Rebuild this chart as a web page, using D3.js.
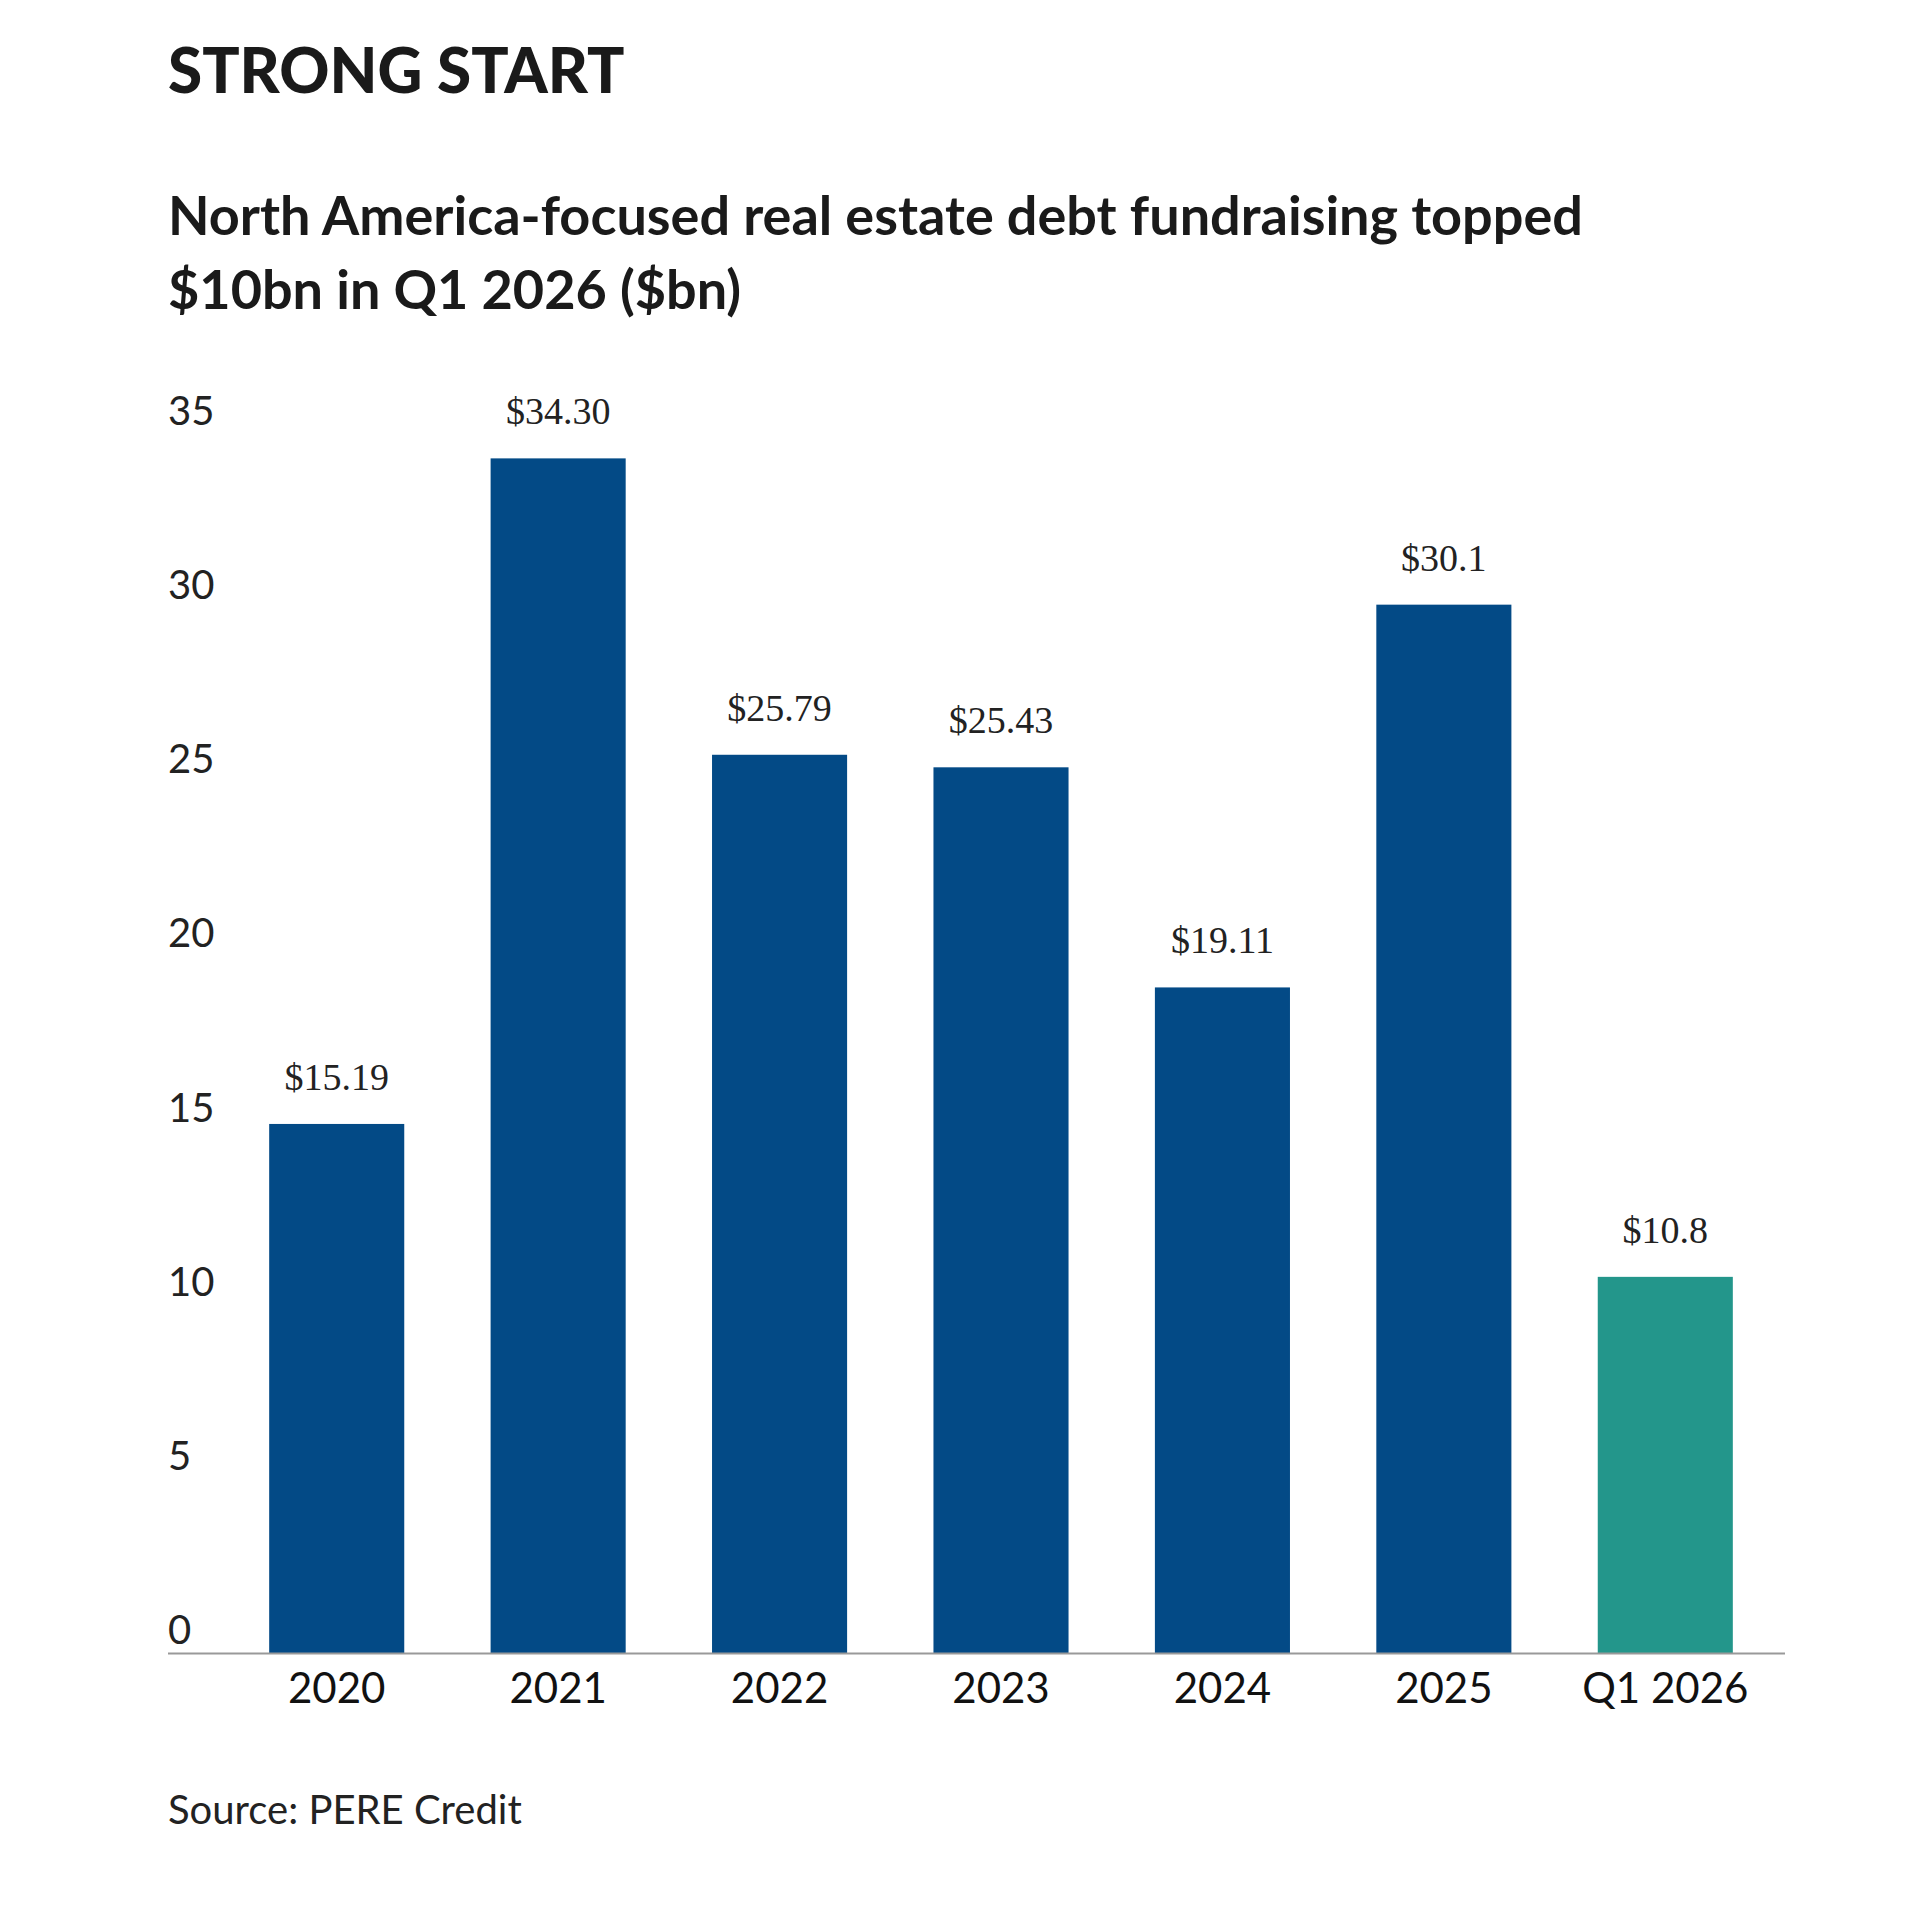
<!DOCTYPE html>
<html><head><meta charset="utf-8">
<script src="https://cdn.jsdelivr.net/npm/d3@7"></script>
<style>body{margin:0;background:#fff}</style>
</head><body><div id="chart"></div>
<script>
const categories = ["2020","2021","2022","2023","2024","2025","Q1 2026"]
const values = [15.19, 34.30, 25.79, 25.43, 19.11, 30.1, 10.8]
const valueLabels = ["$15.19","$34.30","$25.79","$25.43","$19.11","$30.1","$10.8"]
const yTicks = [0,5,10,15,20,25,30,35]

const svg = d3.select("#chart").append("svg")
  .attr("width", 1920).attr("height", 1920)

svg.append("text").attr("x", 168).attr("y", 93)
  .attr("font-family", "Lato").attr("font-weight", 900).attr("font-size", 62)
  .attr("fill", "#1a1a1a").text("STRONG START")

const sub = ["North America-focused real estate debt fundraising topped", "$10bn in Q1 2026 ($bn)"]
svg.selectAll(".sub").data(sub).enter().append("text")
  .attr("x", 168).attr("y", (d, i) => 235 + i * 74)
  .attr("font-family", "Lato").attr("font-weight", 700).attr("font-size", 54)
  .attr("fill", "#1a1a1a").text(d => d)

const x = d3.scaleBand().domain(categories).range([226, 1776]).paddingInner(0.39).paddingOuter(0.195)
const y = d3.scaleLinear().domain([0, 35]).range([1653, 434])

svg.selectAll(".ytick").data(yTicks).enter().append("text")
  .attr("x", 168).attr("y", d => y(d) - 9)
  .attr("font-family", "Lato").attr("font-size", 40).attr("fill", "#222")
  .text(d => d)

svg.selectAll(".bar").data(values).enter().append("rect")
  .attr("x", (d, i) => x(categories[i])).attr("width", x.bandwidth())
  .attr("y", d => y(d)).attr("height", d => y(0) - y(d))
  .attr("fill", (d, i) => i === categories.length - 1 ? "#23968b" : "#034a86")

svg.append("line").attr("x1", 168).attr("x2", 1785).attr("y1", 1653.5).attr("y2", 1653.5)
  .attr("stroke", "#999").attr("stroke-width", 2)

svg.selectAll(".vl").data(values).enter().append("text")
  .attr("x", (d, i) => x(categories[i]) + x.bandwidth() / 2).attr("y", d => y(d) - 34)
  .attr("text-anchor", "middle").attr("font-family", "Liberation Serif").attr("font-size", 38)
  .attr("fill", "#222").text((d, i) => valueLabels[i])

svg.selectAll(".xl").data(categories).enter().append("text")
  .attr("x", d => x(d) + x.bandwidth() / 2).attr("y", 1703)
  .attr("text-anchor", "middle").attr("font-family", "Lato").attr("font-size", 42)
  .attr("fill", "#111").text(d => d)

svg.append("text").attr("x", 168).attr("y", 1824)
  .attr("font-family", "Lato").attr("font-size", 40).attr("fill", "#222")
  .text("Source: PERE Credit")
</script></body></html>
